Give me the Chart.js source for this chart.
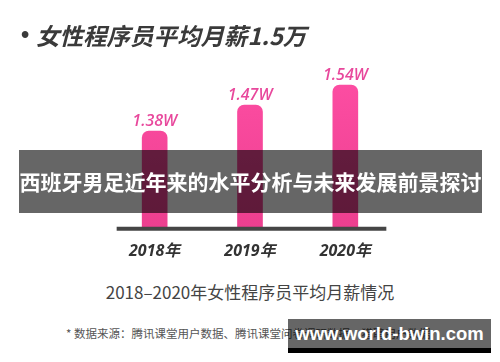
<!DOCTYPE html>
<html><head><meta charset="utf-8">
<script src="https://cdn.jsdelivr.net/npm/chart.js@4"></script>
<style>
html,body{margin:0;padding:0;background:#fff;width:500px;height:362px;overflow:hidden;font-family:"Noto Sans CJK SC","Noto Sans",sans-serif;}
#wrap{position:absolute;left:0;top:0;width:500px;height:275px;}
.t{position:absolute;white-space:nowrap;}
#bullet{left:21px;top:19px;font-size:23.5px;font-family:"Liberation Sans",Arial,sans-serif;font-weight:700;color:#3a3a3a;line-height:32px;}
#title{left:36px;top:19px;font-size:23.5px;font-weight:700;font-style:italic;color:#3a3a3a;line-height:32px;}
#banner{left:19px;top:150px;width:463px;height:63px;background:rgba(0,0,0,0.6);color:#fff;font-size:21px;font-weight:700;line-height:63px;text-align:center;}
#sub{left:0;width:500px;text-align:center;top:280px;font-size:17px;color:#444;line-height:24px;}
#foot{left:66px;top:325px;font-size:11.5px;color:#555;line-height:16px;}
#wm{left:288px;top:319px;width:203px;height:29px;background:rgba(0,0,0,0.6);border-bottom:5px solid #000;color:#fff;font-family:"Liberation Sans",Arial,sans-serif;font-weight:700;font-size:18.5px;line-height:30px;text-align:center;}
</style></head><body>
<div id="wrap"><canvas id="c"></canvas></div>
<div class="t" id="bullet">•</div>
<div class="t" id="title">女性程序员平均月薪1.5万</div>
<div class="t" id="banner">西班牙男足近年来的水平分析与未来发展前景探讨</div>
<div class="t" id="sub">2018–2020年女性程序员平均月薪情况</div>
<div class="t" id="foot">* 数据来源：腾讯课堂用户数据、腾讯课堂问卷调研数据、猎聘用户数据</div>
<div class="t" id="wm">www.world-bwin.com</div>
<script>
const categories = ['2018年', '2019年', '2020年'];
const salaries = [1.38, 1.47, 1.54];
const valueLabels = ['1.38W', '1.47W', '1.54W'];

const valueLabelPlugin = {
  id: 'valueLabels',
  afterDatasetsDraw(chart) {
    const ctx = chart.ctx;
    const meta = chart.getDatasetMeta(0);
    ctx.save();
    ctx.font = 'italic 600 16px "Open Sans", sans-serif';
    ctx.fillStyle = '#e8489c';
    ctx.textAlign = 'center';
    ctx.textBaseline = 'bottom';
    meta.data.forEach((bar, i) => {
      ctx.fillText(valueLabels[i], bar.x, bar.y - 2);
    });
    ctx.restore();
  }
};
const baselinePlugin = {
  id: 'baseline',
  afterDatasetsDraw(chart) {
    const ctx = chart.ctx;
    const xs = chart.scales.x;
    const y = chart.chartArea.bottom + 1;
    const x0 = xs.getPixelForValue(0) - 38;
    const x1 = xs.getPixelForValue(categories.length - 1) + 41;
    ctx.save();
    ctx.strokeStyle = '#454545';
    ctx.lineWidth = 4;
    ctx.beginPath();
    ctx.moveTo(x0, y);
    ctx.lineTo(x1, y);
    ctx.stroke();
    ctx.restore();
  }
};

new Chart(document.getElementById('c'), {
  type: 'bar',
  data: {
    labels: categories,
    datasets: [{
      data: salaries,
      barThickness: 25,
      borderRadius: 7,
      borderSkipped: 'bottom',
      backgroundColor: (c) => {
        const a = c.chart.chartArea;
        if (!a) return '#f64a9c';
        const g = c.chart.ctx.createLinearGradient(0, a.top, 0, a.bottom);
        g.addColorStop(0, '#ff4fa5');
        g.addColorStop(1, '#ec3f8f');
        return g;
      }
    }]
  },
  options: {
    responsive: true,
    maintainAspectRatio: false,
    animation: false,
    layout: { padding: { left: 107, right: 107, top: 60, bottom: 0 } },
    plugins: { legend: { display: false }, tooltip: { enabled: false } },
    scales: {
      x: {
        grid: { display: false, drawTicks: false },
        border: { display: false },
        ticks: { padding: 14, color: '#333', font: { family: '"Open Sans","Noto Sans CJK SC",sans-serif', size: 16, weight: '700', style: 'italic' } }
      },
      y: { display: false, min: 1.043, max: 1.627 }
    }
  },
  plugins: [valueLabelPlugin, baselinePlugin]
});
</script>
</body></html>
